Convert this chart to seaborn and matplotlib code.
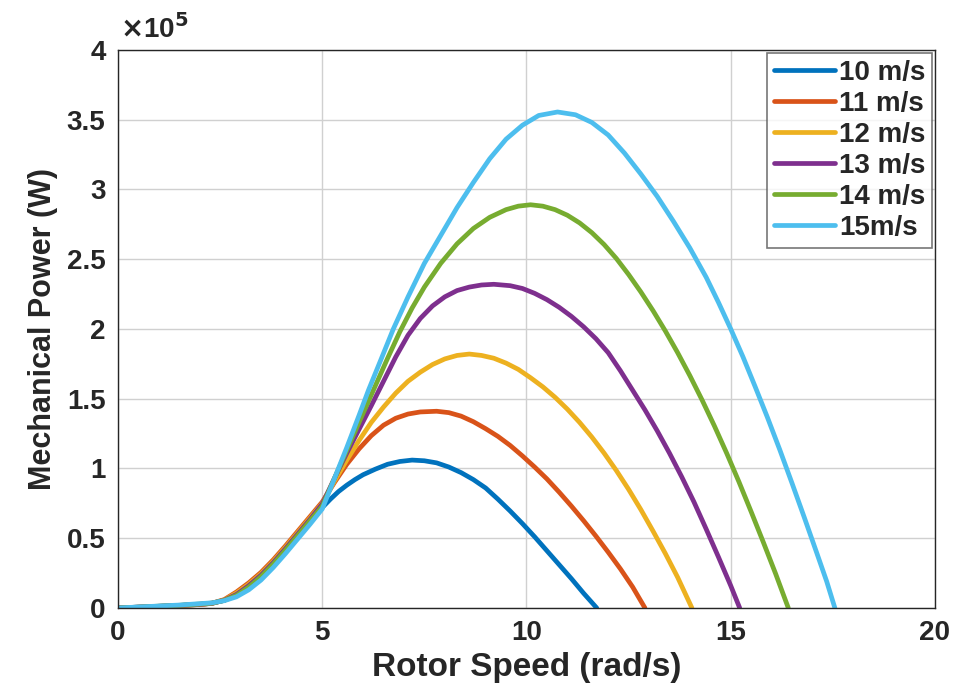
import numpy as np
import pandas as pd
import matplotlib
matplotlib.use("Agg")
import matplotlib.pyplot as plt
import seaborn as sns
from matplotlib.ticker import FuncFormatter

# ---- data (rotor speed in rad/s, mechanical power in units of 1e5 W) ----
labels = ["10 m/s", "11 m/s", "12 m/s", "13 m/s", "14 m/s", "15m/s"]
colors = ["#0072BD", "#D95319", "#EDB120", "#7E2F8E", "#77AC30", "#4DBEEE"]

x_10 = [0, 0.5, 1.0, 1.5, 2.0, 2.3, 2.6, 2.9, 3.2, 3.5, 3.8, 4.1, 4.4, 4.7, 5.0, 5.2, 5.4, 5.6, 5.8, 6.0,
        6.3, 6.6, 6.9, 7.2, 7.5, 7.8, 8.1, 8.4, 8.7, 9.0, 9.3, 9.6, 9.9, 10.2, 10.5, 10.8, 11.1, 11.4, 11.72]
p_10 = [0, 0.006, 0.012, 0.018, 0.025, 0.033, 0.055, 0.10, 0.16, 0.235, 0.325, 0.425, 0.53, 0.635, 0.72,
        0.78, 0.835, 0.88, 0.92, 0.955, 0.995, 1.03, 1.05, 1.06, 1.055, 1.04, 1.01, 0.97, 0.92, 0.86,
        0.78, 0.695, 0.605, 0.51, 0.41, 0.31, 0.21, 0.105, 0]

x_11 = [0, 0.5, 1.0, 1.5, 2.0, 2.3, 2.6, 2.9, 3.2, 3.5, 3.8, 4.1, 4.4, 4.7, 5.0, 5.3, 5.6, 5.9, 6.2, 6.5,
        6.8, 7.1, 7.4, 7.8, 8.1, 8.4, 8.7, 9.0, 9.3, 9.6, 9.9, 10.2, 10.5, 10.8, 11.1, 11.4, 11.7, 12.0,
        12.3, 12.6, 12.9]
p_11 = [0, 0.005, 0.011, 0.017, 0.025, 0.034, 0.06, 0.115, 0.18, 0.255, 0.345, 0.445, 0.55, 0.655, 0.76,
        0.90, 1.03, 1.14, 1.235, 1.31, 1.36, 1.39, 1.405, 1.41, 1.40, 1.375, 1.335, 1.285, 1.23, 1.165,
        1.09, 1.01, 0.925, 0.83, 0.73, 0.625, 0.515, 0.40, 0.28, 0.15, 0]

x_12 = [0, 0.5, 1.0, 1.5, 2.0, 2.3, 2.6, 2.9, 3.2, 3.5, 3.8, 4.1, 4.4, 4.7, 5.0, 5.3, 5.6, 5.9, 6.2, 6.5,
        6.8, 7.1, 7.4, 7.7, 8.0, 8.3, 8.6, 8.9, 9.2, 9.5, 9.8, 10.1, 10.4, 10.7, 11.0, 11.3, 11.6, 11.9,
        12.2, 12.5, 12.8, 13.1, 13.4, 13.7, 14.05]
p_12 = [0, 0.005, 0.011, 0.017, 0.025, 0.033, 0.057, 0.107, 0.17, 0.245, 0.335, 0.435, 0.54, 0.645, 0.75,
        0.91, 1.06, 1.20, 1.33, 1.44, 1.54, 1.625, 1.69, 1.745, 1.785, 1.81, 1.82, 1.81, 1.79, 1.755,
        1.71, 1.65, 1.585, 1.51, 1.425, 1.33, 1.225, 1.11, 0.985, 0.85, 0.705, 0.55, 0.39, 0.22, 0]

x_13 = [0, 0.5, 1.0, 1.5, 2.0, 2.3, 2.6, 2.9, 3.2, 3.5, 3.8, 4.1, 4.4, 4.7, 5.0, 5.3, 5.6, 5.9, 6.2, 6.5,
        6.8, 7.1, 7.4, 7.7, 8.0, 8.3, 8.6, 8.9, 9.2, 9.6, 9.9, 10.2, 10.5, 10.8, 11.1, 11.4, 11.7,
        12.0, 12.3, 12.6, 12.9, 13.2, 13.5, 13.8, 14.1, 14.4, 14.7, 15.0, 15.22]
p_13 = [0, 0.006, 0.012, 0.018, 0.026, 0.034, 0.055, 0.097, 0.16, 0.235, 0.325, 0.425, 0.53, 0.635, 0.745,
        0.93, 1.11, 1.28, 1.45, 1.625, 1.80, 1.955, 2.075, 2.165, 2.23, 2.275, 2.30, 2.315, 2.32, 2.31,
        2.29, 2.255, 2.21, 2.155, 2.09, 2.015, 1.93, 1.83, 1.70, 1.56, 1.42, 1.27, 1.11, 0.94, 0.76,
        0.565, 0.365, 0.16, 0]

x_14 = [0, 0.5, 1.0, 1.5, 2.0, 2.3, 2.6, 2.9, 3.2, 3.5, 3.8, 4.1, 4.4, 4.7, 5.0, 5.3, 5.6, 5.9, 6.25, 6.6,
        6.9, 7.2, 7.5, 7.9, 8.3, 8.7, 9.1, 9.5, 9.8, 10.1, 10.4, 10.7, 11.0, 11.3, 11.6, 11.9, 12.2,
        12.5, 12.8, 13.1, 13.4, 13.7, 14.0, 14.3, 14.6, 14.9, 15.2, 15.5, 15.8, 16.1, 16.41]
p_14 = [0, 0.006, 0.013, 0.019, 0.028, 0.035, 0.054, 0.09, 0.15, 0.225, 0.315, 0.415, 0.52, 0.625, 0.73,
        0.93, 1.13, 1.33, 1.56, 1.79, 1.98, 2.15, 2.30, 2.47, 2.61, 2.72, 2.80, 2.855, 2.88, 2.89,
        2.88, 2.855, 2.815, 2.76, 2.69, 2.605, 2.505, 2.39, 2.265, 2.13, 1.985, 1.83, 1.665, 1.49,
        1.305, 1.11, 0.905, 0.69, 0.47, 0.245, 0]

x_15 = [0, 0.5, 1.0, 1.5, 2.0, 2.3, 2.6, 2.9, 3.2, 3.5, 3.8, 4.1, 4.4, 4.7, 5.0, 5.3, 5.6, 5.9, 6.13, 6.45,
        6.74, 7.1, 7.5, 7.9, 8.3, 8.7, 9.1, 9.5, 9.9, 10.3, 10.76, 11.2, 11.6, 12.0, 12.4, 12.8, 13.2,
        13.6, 14.0, 14.4, 14.7, 15.0, 15.3, 15.6, 15.9, 16.2, 16.5, 16.8, 17.1, 17.35, 17.55]
p_15 = [0, 0.007, 0.014, 0.021, 0.031, 0.037, 0.052, 0.08, 0.13, 0.20, 0.29, 0.39, 0.495, 0.60, 0.71,
        0.93, 1.15, 1.38, 1.56, 1.79, 2.00, 2.23, 2.47, 2.67, 2.87, 3.05, 3.22, 3.36, 3.46, 3.53,
        3.555, 3.535, 3.48, 3.39, 3.26, 3.11, 2.95, 2.77, 2.58, 2.37, 2.19, 2.00, 1.80, 1.585, 1.365,
        1.135, 0.895, 0.65, 0.40, 0.19, 0]

series_x = [x_10, x_11, x_12, x_13, x_14, x_15]
series_p = [p_10, p_11, p_12, p_13, p_14, p_15]

frames = []
for lab, xs, ps in zip(labels, series_x, series_p):
    frames.append(pd.DataFrame({"speed": xs,
                                "power": np.array(ps) * 1e5,
                                "wind": lab}))
df = pd.concat(frames, ignore_index=True)

# ---- style ----
sns.set_theme(style="white")
plt.rcParams["font.family"] = ["Liberation Sans", "DejaVu Sans"]
plt.rcParams["font.weight"] = "bold"

fig = plt.figure(figsize=(9.55, 6.93), dpi=100)
ax = fig.add_axes([0.1236, 0.1227, 0.979 - 0.1236, 0.928 - 0.1227])

sns.lineplot(data=df, x="speed", y="power", hue="wind", hue_order=labels,
             palette=colors, linewidth=3.4, sort=False, estimator=None,
             ax=ax)
for ln in ax.get_lines():
    ln.set_solid_joinstyle("round")
    ln.set_solid_capstyle("round")

ax.set_xlim(0, 20)
ax.set_ylim(0, 4e5)
ax.set_xticks([0, 5, 10, 15, 20])
ax.set_yticks(np.arange(0, 4.01e5, 0.5e5))
ax.yaxis.set_major_formatter(FuncFormatter(lambda v, p: "%g" % (v / 1e5)))
ax.grid(True, color="#d0d0d0", linewidth=1.0)
for s in ax.spines.values():
    s.set_color("#262626")
    s.set_linewidth(1.0)
ax.tick_params(direction="in", length=5, width=1, color="#262626",
               labelsize=20, labelcolor="#262626", pad=9)
for t in ax.get_xticklabels() + ax.get_yticklabels():
    t.set_fontweight("bold")

ax.set_xlabel("Rotor Speed (rad/s)", fontsize=24, fontweight="bold",
              color="#262626", labelpad=4)
ax.set_ylabel("Mechanical Power (W)", fontsize=22, fontweight="bold",
              color="#262626", labelpad=6)
ax.text(0.003, 1.01, r"$\times$10$^{5}$", transform=ax.transAxes,
        fontsize=20, color="#262626", ha="left", va="bottom")

leg = ax.legend(loc="upper right", fontsize=20, frameon=True, fancybox=False,
                edgecolor="#555555", borderpad=0.25, labelspacing=0.18,
                handlelength=2.2, handletextpad=0.15, borderaxespad=0.1)
leg.get_frame().set_linewidth(1.2)
for t in leg.get_texts():
    t.set_fontweight("bold")
for l in leg.get_lines():
    l.set_linewidth(3.4)

fig.savefig("out.png", dpi=100)
